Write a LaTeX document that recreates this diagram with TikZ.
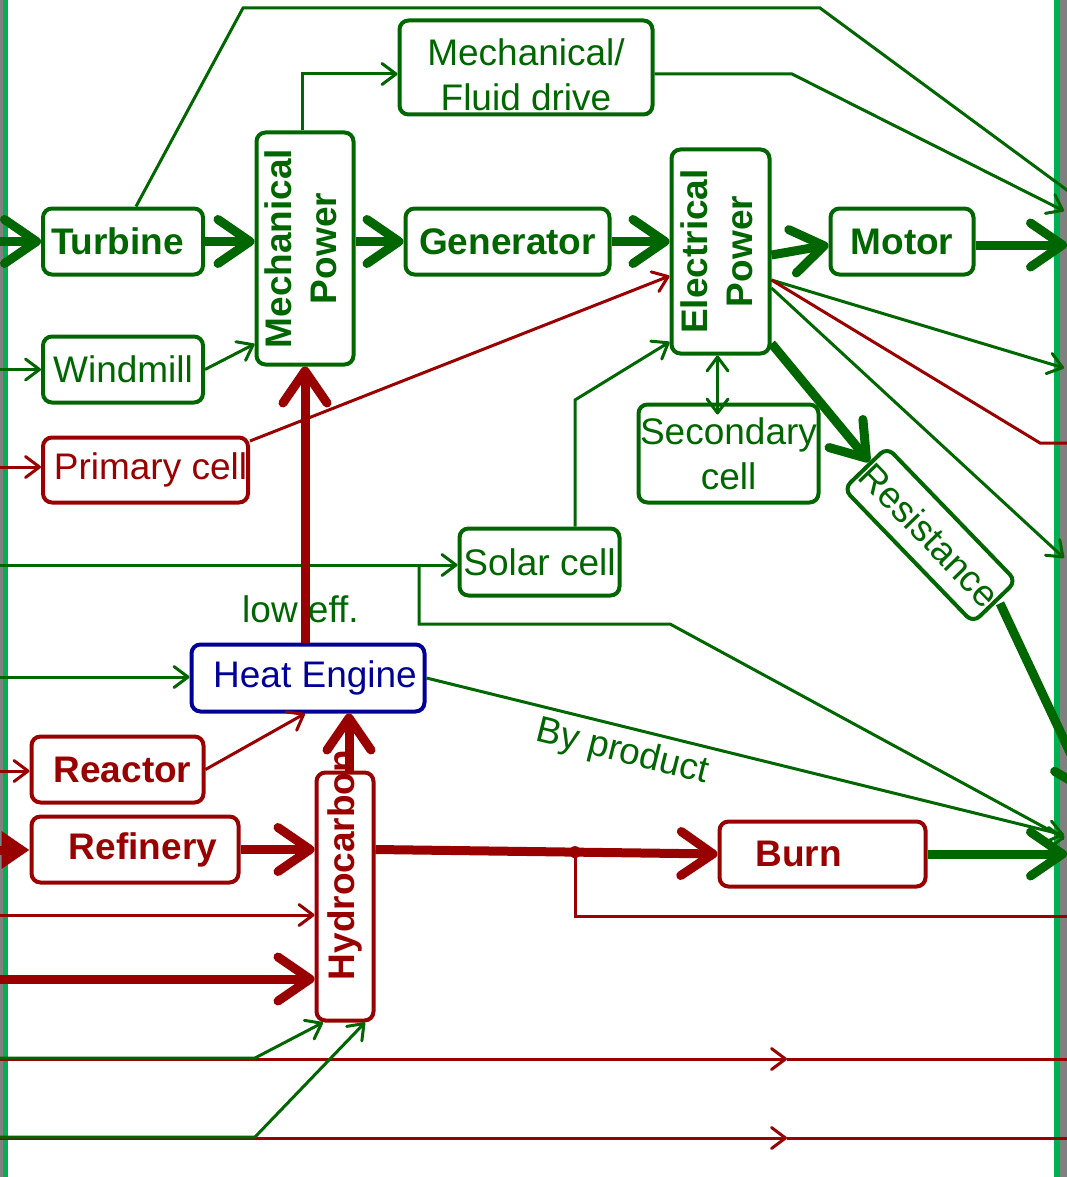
\documentclass[tikz,border=0pt]{standalone}
\usepackage{fontspec}
\setmainfont{Liberation Sans}
\usepackage{graphicx}
\usetikzlibrary{arrows.meta}
\definecolor{grn}{RGB}{0,102,0}
\definecolor{drk}{RGB}{153,0,0}
\definecolor{blu}{RGB}{0,0,153}
\definecolor{stripg}{RGB}{0,176,80}
\definecolor{stripgray}{RGB}{128,128,128}
\begin{document}
\begin{tikzpicture}[x=1pt,y=-1pt,
  every node/.style={font=\fontsize{37}{45}\selectfont, inner sep=0pt},
  box/.style={draw, rounded corners=9pt, line width=4pt, fill=white, inner sep=0pt},
  gbox/.style={box, draw=grn, text=grn},
  rbox/.style={box, draw=drk, text=drk},
  plain/.style={line width=3pt},
  slim/.style={line width=3pt, -{Straight Barb[length=14pt,width=21pt,round]}},
  fat/.style={line width=9pt, -{Straight Barb[length=32pt,width=44pt,round]}},
  dbl/.style={line width=3pt, {Straight Barb[length=14pt,width=21pt,round]}-{Straight Barb[length=14pt,width=21pt,round]}},
  tri/.style={line width=9pt, -{Triangle[length=28pt,width=36pt]}}
]
\useasboundingbox (0,0) rectangle (1067,1177);
\clip (0,0) rectangle (1067,1177);
\fill[white] (0,0) rectangle (1067,1177);
\fill[stripgray] (0,0) rectangle (3,1177);
\fill[stripg] (3,0) rectangle (8,1177);
\fill[stripg] (1054,0) rectangle (1060,1177);
\fill[stripgray] (1060,0) rectangle (1067,1177);

% nodes
\node[gbox, minimum width=160pt, minimum height=66pt] (turbine) at (123,241.5) {\bfseries Turbine\hspace*{11pt}};
\node[gbox, minimum width=160pt, minimum height=66pt] (windmill) at (123,369.5) {Windmill};
\node[rbox, minimum width=205pt, minimum height=65pt] (primary) at (145.5,470) {\hspace*{10pt}Primary cell};
\node[gbox, minimum width=97pt, minimum height=232pt] (mech) at (305,248.5) {\rotatebox{90}{\bfseries\begin{tabular}{@{}c@{}}Mechanical\\Power\end{tabular}}};
\node[gbox, minimum width=253pt, minimum height=94pt, align=center] (fluid) at (526,67.5) {\rule{0pt}{41pt}Mechanical/\\Fluid drive};
\node[gbox, minimum width=204pt, minimum height=66pt] (gen) at (507.5,241.5) {\bfseries Generator};
\node[gbox, minimum width=98pt, minimum height=204pt] (elec) at (720.5,251.5) {\rotatebox{90}{\bfseries\begin{tabular}{@{}c@{}}Electrical\\Power\end{tabular}}};
\node[gbox, minimum width=143pt, minimum height=66pt] (motor) at (902,241.5) {\bfseries Motor};
\node[gbox, minimum width=180pt, minimum height=98pt, align=center] (sec) at (728.5,453.5) {Secondary\\cell};
\node[gbox, minimum width=186pt, minimum height=60pt, rotate=-46] (res) at (930,535) {Resistance};
\node[gbox, minimum width=160pt, minimum height=67pt] (solar) at (539.5,562) {Solar cell};
\node[box, draw=blu, text=blu, minimum width=233pt, minimum height=67pt] (heat) at (308,678) {\hspace*{14pt}Heat Engine};
\node[rbox, minimum width=172pt, minimum height=66pt] (reactor) at (117.5,769.5) {\bfseries\hspace*{10pt}Reactor};
\node[rbox, minimum width=207pt, minimum height=66pt] (refinery) at (135,849.5) {\bfseries\hspace*{16pt}Refinery};
\node[rbox, minimum width=57pt, minimum height=248pt] (hydro) at (345,896.5) {};
\node[text=drk, rotate=90] (hydrotext) at (345,865) {\bfseries Hydrocarbon};
\node[rbox, minimum width=206pt, minimum height=65pt] (burn) at (822.5,854) {\bfseries Burn\hspace*{48pt}};
\node[text=grn, anchor=base] (loweff) at (300.5,622) {low eff.};
\node[text=grn, anchor=base, rotate=-14] (byprod) at (620,762) {By product};

% free ends
\coordinate (lT) at (-10,241.5);
\coordinate (lW) at (-10,369.5);
\coordinate (lP) at (-10,467);
\coordinate (lS) at (-10,565);
\coordinate (bS) at (419,565);
\coordinate (lH) at (-10,677);
\coordinate (lR) at (-10,771);
\coordinate (lF) at (-40,850);
\coordinate (lH1) at (-10,915);
\coordinate (lH2) at (-10,979);
\coordinate (lB1) at (-10,1059);
\coordinate (mB1) at (787,1059);
\coordinate (rB1) at (1075,1059);
\coordinate (lB2) at (-10,1138);
\coordinate (mB2) at (787,1138);
\coordinate (rB2) at (1075,1138);
\coordinate (lG1) at (-10,1058);
\coordinate (lG2) at (-10,1137);
\coordinate (rT) at (1075,196);
\coordinate (rF) at (1064,211);
\coordinate (rM) at (1067,245);
\coordinate (rE1) at (1064,368);
\coordinate (rE2) at (1070,443);
\coordinate (rE3) at (1064,558);
\coordinate (rR) at (1090,795);
\coordinate (rH) at (1064,835);
\coordinate (rS2) at (1064,838);
\coordinate (rB) at (1067,854);
\coordinate (dot) at (575,852.1);
\coordinate (rD) at (1070,916);

% left inputs
\draw[grn, fat] (lT) -- (turbine.west);
\draw[grn, slim] (lW) -- (windmill.west);
\draw[drk, slim] (lP) -- (primary.west |- lP);
\draw[grn, slim] (lS) -- (solar.west |- lS);
\draw[grn, slim] (lH) -- (heat.west |- lH);
\draw[drk, slim] (lR) -- (reactor.west |- lR);
\draw[drk, tri] (lF) -- (refinery.west |- lF);
\draw[drk, slim] (lH1) -- (hydro.west |- lH1);
\draw[drk, fat] (lH2) -- (hydro.west |- lH2);
\draw[drk, slim] (lB1) -- (mB1);
\draw[drk, plain] (mB1) -- (rB1);
\draw[drk, slim] (lB2) -- (mB2);
\draw[drk, plain] (mB2) -- (rB2);
\draw[grn, slim] (lG1) -- (255,1058) -- ([xshift=-22pt]hydro.south);
\draw[grn, slim] (lG2) -- (255,1137) -- ([xshift=20pt]hydro.south);

% internal
\draw[grn, plain] ([xshift=13pt]turbine.north) -- (243,8) -- (820,8) -- (rT);
\draw[grn, fat] (turbine.east) -- (turbine.east -| mech.west);
\draw[grn, slim] (windmill.east) -- ([yshift=22.5pt]mech.south west);
\draw[grn, slim] ([xshift=-3pt]mech.north) -- ([xshift=-3pt]mech.north |- 0,74) -- ([yshift=-6.5pt]fluid.west);
\draw[grn, slim] ([yshift=-6.5pt]fluid.east) -- (792,74) -- (rF);
\draw[grn, fat] (mech.east |- gen) -- (gen.west);
\draw[grn, fat] (gen.east) -- (gen.east -| elec.west);
\draw[grn, fat] ([yshift=-3.5pt]elec.east) -- ([yshift=-3.5pt]motor.west);
\draw[grn, fat] ([yshift=-3.5pt]motor.east) -- (rM);
\draw[drk, slim] ([yshift=-5.5pt]primary.north east) -- ([yshift=-24.5pt]elec.west);
\draw[grn, slim] ([xshift=35.5pt]solar.north) -- (575,400) -- ([yshift=-90.5pt]elec.west);
\draw[grn, dbl] ([xshift=-3pt]elec.south) -- ([xshift=-11pt,yshift=-12pt]sec.north);
\draw[grn, fat] ([yshift=12pt]elec.south east) -- (res);
\draw[grn, fat] ([xshift=4pt]res.east) -- (rR);
\draw[grn, slim] ([yshift=-28.5pt]elec.east) -- (rE1);
\draw[drk, plain] ([yshift=-28.5pt]elec.east) -- (1040,443) -- (rE2);
\draw[grn, slim] ([yshift=-36.5pt]elec.east) -- (rE3);
\draw[grn, plain] (bS) -- (419,624) -- (670,624) -- (rS2);
\draw[grn, slim] (rS2) ++(-0.01,0) -- (rS2);
\draw[grn, slim] (heat.east) -- (rH);
\draw[drk, fat] (heat.north -| mech.south) -- (mech.south);
\draw[drk, fat] ([xshift=4pt]hydro.north) -- ([xshift=4pt]hydro.north |- heat.south);
\draw[drk, slim] (reactor.east) -- ([xshift=-3pt]heat.south);
\draw[drk, fat] (refinery.east) -- (refinery.east -| hydro.west);
\draw[drk, fat] (hydro.east |- refinery) -- (burn.west);
\fill[drk] (dot) circle (6pt);
\draw[drk, plain] (dot) -- (575,916) -- (rD);
\draw[grn, fat] (burn.east) -- (rB);
\end{tikzpicture}
\end{document}
